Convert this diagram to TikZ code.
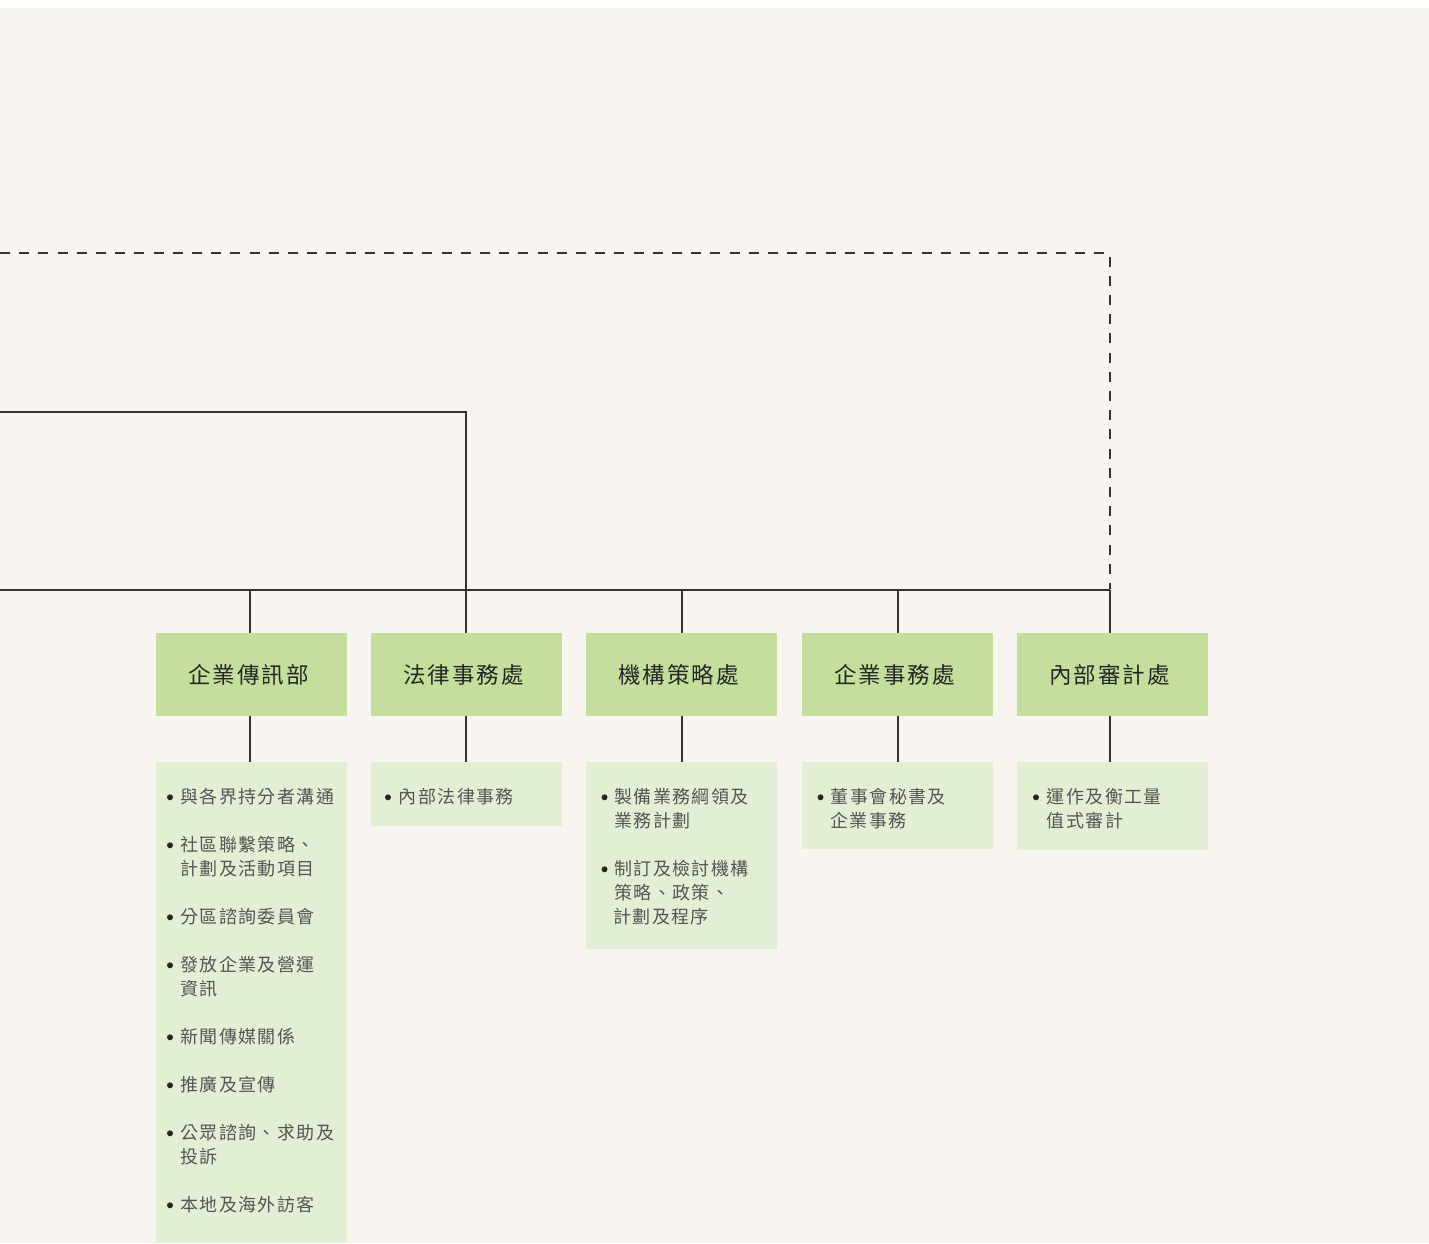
\documentclass[tikz,border=0pt]{standalone}
\usepackage{fontspec}
\newfontfamily\hdrfont[LetterSpace=9]{Noto Sans CJK TC}
\newfontfamily\itmfont[LetterSpace=8]{Noto Sans CJK TC}
\definecolor{bgc}{HTML}{F8F5F0}
\definecolor{hdrc}{HTML}{C4DF9B}
\definecolor{detc}{HTML}{E3EFD5}
\definecolor{linec}{HTML}{333333}
\definecolor{hdrtxt}{HTML}{262626}
\definecolor{itmtxt}{HTML}{555555}
\tikzset{
  hdrbox/.style={rectangle, fill=hdrc, minimum width=191pt, minimum height=83pt, inner sep=0pt,
    font=\hdrfont\fontsize{22.5}{26}\selectfont, text=hdrtxt},
  detbox/.style={rectangle, fill=detc, minimum width=191pt, inner sep=0pt, anchor=north},
  conn/.style={draw=linec, line width=1.3pt},
  dashconn/.style={draw=linec, line width=1.3pt, dash pattern=on 10pt off 9.2pt},
  itm/.style={inner sep=0pt, anchor=west, font=\itmfont\fontsize{18}{24}\selectfont, text=itmtxt},
  bul/.style={circle, fill=hdrtxt, inner sep=0pt, minimum size=6pt}
}
\begin{document}
\begin{tikzpicture}[x=1pt,y=-1pt]
\useasboundingbox (0,0) rectangle (1429,1243);
\fill[white] (0,0) rectangle (1429,1243);
\fill[bgc] (0,8) rectangle (1429,1243);

% header boxes
\node[hdrbox] (h1) at (251.5,674.5) {企業傳訊部\kern6pt};
\node[hdrbox] (h2) at (466.5,674.5) {法律事務處\kern6pt};
\node[hdrbox] (h3) at (681.5,674.5) {機構策略處\kern6pt};
\node[hdrbox] (h4) at (897.5,674.5) {企業事務處\kern6pt};
\node[hdrbox] (h5) at (1112.5,674.5) {內部審計處\kern6pt};

% detail boxes
\node[detbox, minimum height=481pt] (d1) at (251.5,762) {};
\node[detbox, minimum height=64pt] (d2) at (466.5,762) {};
\node[detbox, minimum height=187pt] (d3) at (681.5,762) {};
\node[detbox, minimum height=87pt] (d4) at (897.5,762) {};
\node[detbox, minimum height=88pt] (d5) at (1112.5,762) {};

% connector anchor points
\coordinate (bus) at (0,590);
\coordinate (lft) at (0,412);
\coordinate (dsh) at (0,253);
\coordinate (p1) at ([xshift=-1.5pt]h1.north);
\coordinate (p2) at ([xshift=-0.5pt]h2.north);
\coordinate (p3) at ([xshift=0.5pt]h3.north);
\coordinate (p4) at ([xshift=0.5pt]h4.north);
\coordinate (p5) at ([xshift=-2.5pt]h5.north);

\draw[conn] (bus) -- (bus -| p5);
\foreach \p in {p1,p3,p4,p5} {\draw[conn] (\p) -- (\p |- bus);}
\draw[conn] (lft) -| (p2);
\draw[dashconn] (dsh) -| ([yshift=1pt]p5 |- bus);
\draw[conn] (p1) ++(0,83) -- (p1 |- d1.north);
\draw[conn] (p2) ++(0,83) -- (p2 |- d2.north);
\draw[conn] (p3) ++(0,83) -- (p3 |- d3.north);
\draw[conn] (p4) ++(0,83) -- (p4 |- d4.north);
\draw[conn] (p5) ++(0,83) -- (p5 |- d5.north);

% items box 1
\node[bul] (b11) at (170,797.3) {};
\node[itm] (t11) at (180,797) {與各界持分者溝通};
\node[bul] (b12) at (170,845.3) {};
\node[itm] (t12) at (180,845) {社區聯繫策略、};
\node[itm] (t12b) at (180,869) {計劃及活動項目};
\node[bul] (b13) at (170,917.3) {};
\node[itm] (t13) at (180,917) {分區諮詢委員會};
\node[bul] (b14) at (170,965.3) {};
\node[itm] (t14) at (180,965) {發放企業及營運};
\node[itm] (t14b) at (180,989) {資訊};
\node[bul] (b15) at (170,1037.3) {};
\node[itm] (t15) at (180,1037) {新聞傳媒關係};
\node[bul] (b16) at (170,1085.3) {};
\node[itm] (t16) at (180,1085) {推廣及宣傳};
\node[bul] (b17) at (170,1133.3) {};
\node[itm] (t17) at (180,1133) {公眾諮詢、求助及};
\node[itm] (t17b) at (180,1157) {投訴};
\node[bul] (b18) at (170,1205.3) {};
\node[itm] (t18) at (180,1205) {本地及海外訪客};

% items box 2
\node[bul] (b21) at (388,797.3) {};
\node[itm] (t21) at (398.5,797) {內部法律事務};

% items box 3
\node[bul] (b31) at (604.5,797.3) {};
\node[itm] (t31) at (614,797) {製備業務綱領及};
\node[itm] (t31b) at (614,821) {業務計劃};
\node[bul] (b32) at (604.5,869.3) {};
\node[itm] (t32) at (614,869) {制訂及檢討機構};
\node[itm] (t32b) at (614,893) {策略、政策、};
\node[itm] (t32c) at (613,917) {計劃及程序};

% items box 4
\node[bul] (b41) at (820.5,797.3) {};
\node[itm] (t41) at (830.5,797) {董事會秘書及};
\node[itm] (t41b) at (830,821) {企業事務};

% items box 5
\node[bul] (b51) at (1036,797.3) {};
\node[itm] (t51) at (1046.5,797) {運作及衡工量};
\node[itm] (t51b) at (1046.5,821) {值式審計};
\end{tikzpicture}
\end{document}
